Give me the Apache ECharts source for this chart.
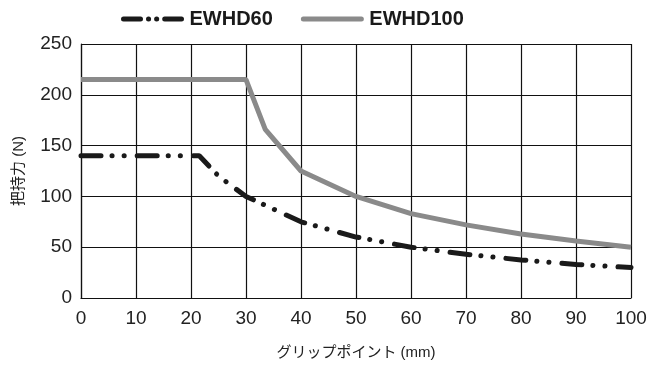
<!DOCTYPE html>
<html><head><meta charset="utf-8">
<script src="https://cdn.jsdelivr.net/npm/echarts@6/dist/echarts.min.js"></script>
<style>html,body{margin:0;padding:0;background:#fff}#c{width:666px;height:365px}</style>
</head><body><div id="c"></div>
<script>
const seriesNames = ['EWHD60', 'EWHD100'];
const ewhd60 = [[0,140],[21.5,140],[25,120],[30,100],[40,75],[50,60],[60,50],[70,43],[80,37.5],[90,33],[100,30]];
const ewhd100 = [[0,215],[30,215],[33.5,166],[40,125],[50,100],[60,83],[70,72],[80,63],[90,56],[100,50]];
const xTicks = [0,10,20,30,40,50,60,70,80,90,100];
const yTicks = [0,50,100,150,200,250];
const xName = 'グリップポイント (mm)';
const yName = '把持力 (N)';

const chart = echarts.init(document.getElementById('c'), null, {renderer:'canvas'});
const font = 'Helvetica, "Liberation Sans", Arial, "Noto Sans CJK JP", sans-serif';
chart.setOption({
  animation:false,
  textStyle:{fontFamily:font},
  legend:{
    top:4, left:116, itemWidth:58, itemHeight:12, itemGap:28,
    itemStyle:{opacity:0},
    textStyle:{fontSize:20, fontWeight:'bold', color:'#1a1a1a', fontFamily:font, padding:[0,0,0,3]},
    data:[
      {name:seriesNames[0], lineStyle:{width:5, cap:'round', type:[17,8,0.1,8,0.1,8]}},
      {name:seriesNames[1], lineStyle:{width:5, cap:'round'}}
    ]
  },
  grid:{left:81, right:35, top:44, bottom:67},
  xAxis:{
    type:'value', min:0, max:100, interval:10,
    name:xName, nameLocation:'middle', nameGap:47,
    nameTextStyle:{fontSize:15, color:'#222'},
    axisLine:{lineStyle:{color:'#111', width:1.2}},
    axisTick:{show:false},
    axisLabel:{fontSize:19, color:'#222', margin:11,
      formatter:v=>xTicks.includes(v)?String(v):''},
    splitLine:{show:true, lineStyle:{color:'#111', width:1.2}}
  },
  yAxis:{
    type:'value', min:0, max:250, interval:50,
    name:yName, nameLocation:'middle', nameGap:55, nameRotate:90,
    nameTextStyle:{fontSize:15, color:'#222'},
    axisLine:{show:true, lineStyle:{color:'#111', width:1.2}},
    axisTick:{show:false},
    axisLabel:{fontSize:19, color:'#222', margin:9,
      formatter:v=>yTicks.includes(v)?String(v):''},
    splitLine:{show:true, lineStyle:{color:'#111', width:1.2}}
  },
  series:[
    {name:seriesNames[0], type:'line', data:ewhd60, showSymbol:false, symbol:'none',
     itemStyle:{color:'#1a1a1a'},
     lineStyle:{color:'#1a1a1a', width:5, cap:'round', type:[20,11,0.1,12,0.1,13]}},
    {name:seriesNames[1], type:'line', data:ewhd100, showSymbol:false, symbol:'none',
     itemStyle:{color:'#8a8a8a'},
     lineStyle:{color:'#8a8a8a', width:5}}
  ]
});
</script></body></html>
